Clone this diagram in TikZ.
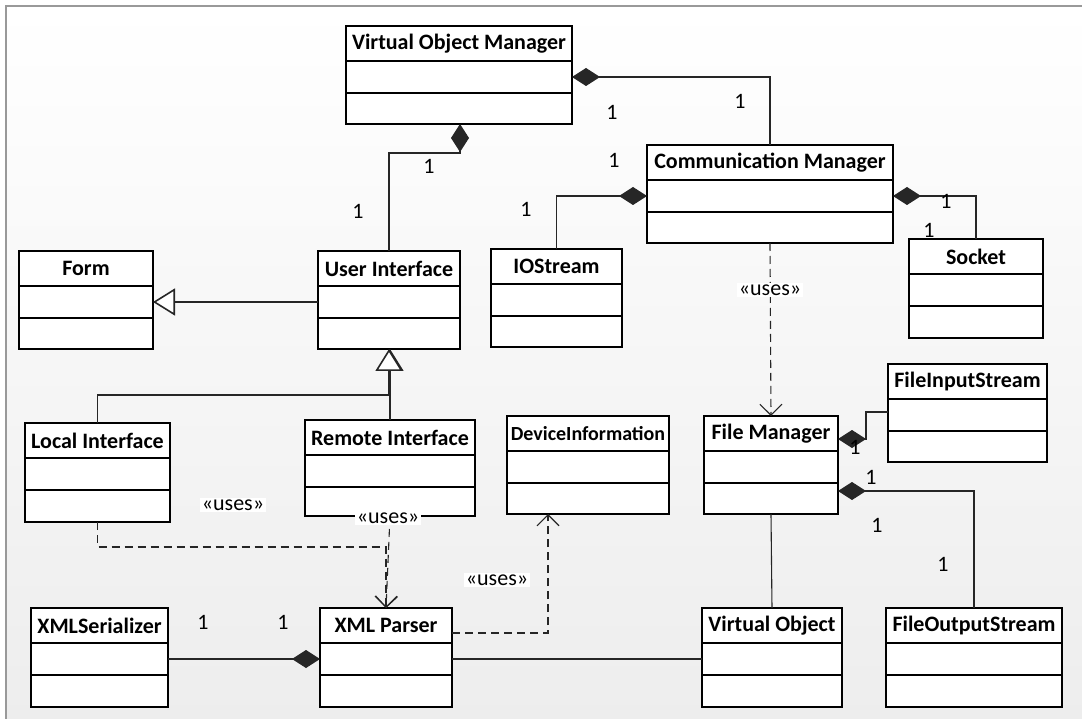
\documentclass[tikz,border=0pt]{standalone}
\usepackage{fontspec}
\setmainfont{Carlito}
\usetikzlibrary{arrows.meta,calc}
\tikzset{
  classbox/.style={draw=black, fill=white, line width=1.8pt, rectangle, inner sep=0pt, outer sep=0pt},
  classtitle/.style={font=\bfseries\fontsize{22}{26}\selectfont, inner sep=0pt},
  boxline/.style={draw=black, line width=1.8pt},
  conn/.style={draw=black!85, line width=1.1pt},
  comp/.style={conn, -{Diamond[length=28pt,width=18pt]}},
  gen/.style={conn, -{Triangle[length=22pt,width=27pt,fill=white,line width=1.6pt]}},
  uses/.style={conn, dash pattern=on 8pt off 5pt, -{Straight Barb[length=11pt,width=22pt,line width=1.1pt]}},
  mult/.style={font=\fontsize{22}{26}\selectfont, inner sep=0pt},
  usestxt/.style={font=\fontsize{22}{26}\selectfont, fill=white, inner sep=2pt},
}
\newcommand\umlclass[6]{%
  \node[classbox, minimum width={(#4-#2)*1pt}, minimum height={(#5-#3)*1pt}, anchor=north west] (#1) at (#2,#3) {};
  \node[classtitle] (#1-title) at ($(#1.north)+(0,17.5)$) {#6};
  \draw[boxline] ($(#1.north west)+(0,35)$) -- ($(#1.north east)+(0,35)$);
  \draw[boxline] ($(#1.north west)+(0,67)$) -- ($(#1.north east)+(0,67)$);
  \coordinate (#1-mw) at ($(#1.north west)+(0,51)$);
  \coordinate (#1-me) at ($(#1.north east)+(0,51)$);
}
\begin{document}
\begin{tikzpicture}[x=1pt,y=-1pt]
\useasboundingbox (0,0) rectangle (1082,719);
\shade[top color=white, bottom color=black!7] (6,6) rectangle (1082,719);
\draw[black!40, line width=1.2pt] (6,719) -- (6,6) -- (1082,6);

\umlclass{VOM}{346}{26}{572}{124}{Virtual Object Manager}
\umlclass{CM}{647}{145}{893}{243}{Communication Manager}
\umlclass{Socket}{909}{239}{1043}{338}{Socket}
\umlclass{IOS}{491}{249}{622}{347}{IOStream}
\umlclass{Form}{19}{251}{153}{349}{Form}
\umlclass{UI}{318}{251}{460}{349}{User Interface}
\umlclass{LI}{25}{423}{170}{522}{Local Interface}
\umlclass{RI}{305}{420}{475}{516}{Remote Interface}
\umlclass{DI}{507}{416}{669}{514}{\fontsize{20}{24}\selectfont DeviceInformation}
\umlclass{FM}{704}{416}{838}{514}{File Manager}
\umlclass{FIS}{888}{364}{1047}{462}{FileInputStream}
\umlclass{XMLS}{31}{608}{168}{707}{XMLSerializer}
\umlclass{XMLP}{320}{608}{452}{707}{XML Parser}
\umlclass{VO}{702}{608}{842}{707}{Virtual Object}
\umlclass{FOS}{886}{608}{1062}{707}{FileOutputStream}

% compositions
\draw[comp] (CM.north) |- (VOM.east |- 0,77);
\draw[comp] (UI.north) |- (460,153) -- (VOM.south -| 460,0);
\draw[comp] (IOS.north) |- (CM-mw);
\draw[comp] (Socket.north) |- (CM-me);
\draw[comp] (XMLS-me) -- (XMLP-mw);
\draw[comp] (FOS.north) |- (FM.east |- 0,491);
\draw[comp] (FIS.west |- 0,412) -| (866,439) -- (FM.east |- 0,439);

% generalizations
\draw[gen] (UI-mw) -- (Form-me);
\draw[gen] (RI.north) -- (RI.north |- UI.south);
\draw[gen] (LI.north) |- (389,395) -- (UI.south);

% associations
\draw[conn] (XMLP-me) -- (VO-mw);
\draw[conn] (FM.south) -- (VO.north);

% dependencies
\draw[uses] (CM.south) -- (FM.north);
\draw[uses] (LI.south) |- (386,547) -- (XMLP.north);
\draw[uses] (RI.south) -- (XMLP.north);
\draw[uses] (XMLP.east |- 0,633) -| (DI.south -| 548,0);

\node[usestxt] (u1) at (770,290) {«uses»};
\node[usestxt] (u2) at (233,505) {«uses»};
\node[usestxt] (u3) at (388,518) {«uses»};
\node[usestxt] (u4) at (497,580) {«uses»};

% multiplicities
\node[mult] (m1) at (612,112) {1};
\node[mult] (m2) at (740,101) {1};
\node[mult] (m3) at (429,166) {1};
\node[mult] (m4) at (358,211) {1};
\node[mult] (m5) at (614,160) {1};
\node[mult] (m6) at (526,209) {1};
\node[mult] (m7) at (946,201) {1};
\node[mult] (m8) at (929,230) {1};
\node[mult] (m9) at (203,622) {1};
\node[mult] (m10) at (283,622) {1};
\node[mult] (m11) at (855,447) {1};
\node[mult] (m12) at (871,477) {1};
\node[mult] (m13) at (877,525) {1};
\node[mult] (m14) at (943,564) {1};
\end{tikzpicture}
\end{document}
